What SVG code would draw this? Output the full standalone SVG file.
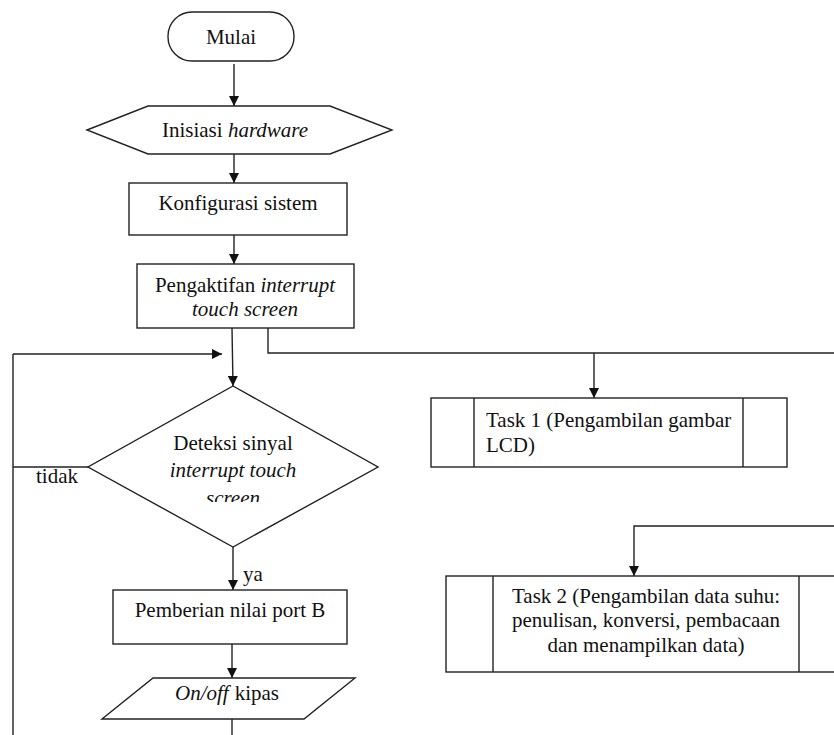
<svg xmlns="http://www.w3.org/2000/svg" width="834" height="735" viewBox="0 0 834 735">
<style>
.s{fill:#fff;stroke:#222;stroke-width:1.4}
.c{fill:none;stroke:#222;stroke-width:1.4}
text{font-family:"Liberation Serif","Times New Roman",serif;font-size:21px;fill:#111}
.m{text-anchor:middle}
.i{font-style:italic}
</style>
<defs>
<marker id="ah" viewBox="0 0 10 10" refX="10" refY="5" markerWidth="10" markerHeight="10" markerUnits="userSpaceOnUse" orient="auto">
<path d="M0,0 L10,5 L0,10 Z" fill="#111"/>
</marker>
<clipPath id="dclip"><rect x="0" y="0" width="834" height="502"/></clipPath>
</defs>
<g id="connectors">
<line class="c" x1="234" y1="64" x2="234" y2="106" marker-end="url(#ah)"/>
<line class="c" x1="234" y1="154" x2="234" y2="183" marker-end="url(#ah)"/>
<line class="c" x1="234" y1="235" x2="234" y2="264" marker-end="url(#ah)"/>
<line class="c" x1="232" y1="328" x2="233" y2="386" marker-end="url(#ah)"/>
<polyline class="c" points="88,467 13,467"/>
<line class="c" x1="13" y1="354" x2="13" y2="735"/>
<line class="c" x1="13" y1="354" x2="222" y2="354" marker-end="url(#ah)"/>
<polyline class="c" points="268,328 268,353 834,353"/>
<line class="c" x1="594" y1="353" x2="594" y2="398" marker-end="url(#ah)"/>
<polyline class="c" points="834,526 634,526 634,576" marker-end="url(#ah)"/>
<line class="c" x1="233" y1="547" x2="233" y2="590" marker-end="url(#ah)"/>
<line class="c" x1="232" y1="644" x2="232" y2="678" marker-end="url(#ah)"/>
<line class="c" x1="232" y1="719" x2="232" y2="735"/>
<text x="36" y="483">tidak</text>
<text x="243" y="581">ya</text>
</g>
<g id="mulai">
<rect class="s" x="168" y="12" width="126" height="49" rx="24" ry="24"/>
<text class="m" x="231" y="44">Mulai</text>
</g>
<g id="inisiasi">
<polygon class="s" points="87,130 148,106 330,106 392,130 330,154 148,154"/>
<text class="m" x="235" y="137">Inisiasi <tspan class="i">hardware</tspan></text>
</g>
<g id="konfigurasi">
<rect class="s" x="129" y="183" width="218" height="52"/>
<text class="m" x="238" y="210">Konfigurasi sistem</text>
</g>
<g id="pengaktifan">
<rect class="s" x="137" y="264" width="217" height="64"/>
<text class="m" x="245" y="292">Pengaktifan <tspan class="i">interrupt</tspan></text>
<text class="m i" x="245" y="316">touch screen</text>
</g>
<g id="deteksi">
<polygon class="s" points="233,386 378,467 233,547 88,467"/>
<text class="m" x="233" y="450">Deteksi sinyal</text>
<text class="m i" x="233" y="477">interrupt touch</text>
<text class="m i" x="233" y="505" clip-path="url(#dclip)">screen</text>
</g>
<g id="pemberian">
<rect class="s" x="113" y="590" width="234" height="54"/>
<text class="m" x="230" y="617">Pemberian nilai port B</text>
</g>
<g id="onoff">
<polygon class="s" points="153,678 355,678 304,719 102,719"/>
<text class="m" x="227" y="700"><tspan class="i">On/off</tspan><tspan dx="6">kipas</tspan></text>
</g>
<g id="task1">
<rect class="s" x="431" y="398" width="356" height="69"/>
<line class="c" x1="474" y1="398" x2="474" y2="467"/>
<line class="c" x1="743" y1="398" x2="743" y2="467"/>
<text x="486" y="427">Task 1 (Pengambilan gambar</text>
<text x="486" y="452">LCD)</text>
</g>
<g id="task2">
<rect class="s" x="446" y="576" width="404" height="96"/>
<line class="c" x1="493" y1="576" x2="493" y2="672"/>
<line class="c" x1="799" y1="576" x2="799" y2="672"/>
<text class="m" x="646" y="603">Task 2 (Pengambilan data suhu:</text>
<text class="m" x="646" y="627">penulisan, konversi, pembacaan</text>
<text class="m" x="646" y="652">dan menampilkan data)</text>
</g>
</svg>
